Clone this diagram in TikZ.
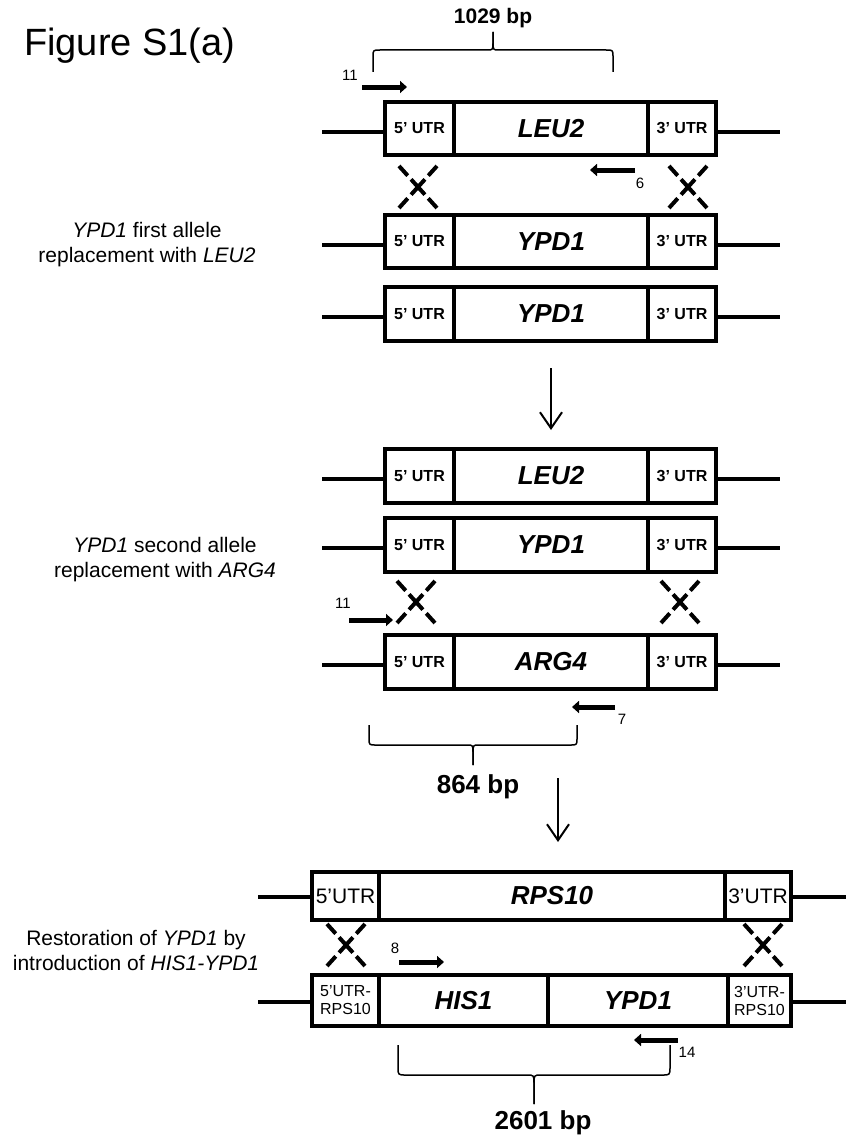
\documentclass[tikz,border=0pt]{standalone}
\usepackage{fontspec}
\setmainfont{Liberation Sans}
\usetikzlibrary{arrows.meta}
\newcommand\utrfont{\fontsize{16}{19}\selectfont\bfseries}
\newcommand\genefont{\fontsize{26}{30}\selectfont\bfseries\itshape}
\newcommand\plainutr{\fontsize{21}{24}\selectfont}
\newcommand\smallutr{\fontsize{16}{18}\selectfont}
\newcommand\primfont{\fontsize{15}{18}\selectfont}
\newcommand\sidefont{\fontsize{21}{25}\selectfont}
\newcommand\segnode[7]{\node[segbox,#6,minimum width={#3-#2},minimum height={#5-#4}] (#1) at ({(#2+#3)/2},{(#4+#5)/2}) {#7};}
\newcommand\stdrow[4]{%
  \segnode{#1a}{385}{454}{#2}{#3}{font=\utrfont}{5’ UTR}
  \segnode{#1b}{454}{648}{#2}{#3}{font=\genefont}{#4}
  \segnode{#1c}{648}{716}{#2}{#3}{font=\utrfont}{3’ UTR}
  \coordinate (#1L) at (322,{(#2+#3)/2+3});
  \coordinate (#1R) at (780,{(#2+#3)/2+3});
  \draw[flank] (#1L) -- (#1L -| #1a.west);
  \draw[flank] (#1R -| #1c.east) -- (#1R);
}
\newcommand\xcross[2]{%
  \draw[xdash] ({#1-19},{#2-21}) -- ({#1+19},{#2+21});
  \draw[xdash] ({#1+19},{#2-21}) -- ({#1-19},{#2+21});
}
\begin{document}
\begin{tikzpicture}[x=1pt,y=-1pt,
  segbox/.style={draw,line width=4pt,inner sep=0pt,outer sep=0pt,align=center},
  flank/.style={line width=4pt},
  xdash/.style={line width=4pt,dash pattern=on 13pt off 5pt on 20.6pt off 5pt},
  primer/.style={line width=5pt,-{Triangle[length=7pt,width=12pt]}},
  plab/.style={font=\primfont,inner sep=0pt},
  flow/.style={line width=2pt,-{Straight Barb[length=16pt,width=22pt]}},
  brc/.style={line width=1.5pt,line join=round},
  side/.style={font=\sidefont,align=center,inner sep=0pt},
  bp/.style={font=\fontsize{26}{30}\selectfont\bfseries,inner sep=0pt}]
\useasboundingbox (0,0) rectangle (846,1140);

\node[anchor=base west,font=\fontsize{38}{44}\selectfont,inner sep=0pt] (title) at (24,56) {Figure S1(a)};

% rows
\stdrow{r1}{102}{155}{LEU2}
\stdrow{r2}{215}{268}{YPD1}
\stdrow{r3}{287}{341}{YPD1}
\stdrow{r4}{449}{503}{LEU2}
\stdrow{r5}{518}{572}{YPD1}
\stdrow{r6}{635}{689}{ARG4}

% bottom rows
\segnode{r7a}{312}{379}{872}{920}{font=\plainutr}{5’UTR}
\segnode{r7b}{379}{725}{872}{920}{font=\genefont}{RPS10}
\segnode{r7c}{725}{791}{872}{920}{font=\plainutr}{3’UTR}
\coordinate (r7L) at (258,897);
\coordinate (r7R) at (846,897);
\draw[flank] (r7L) -- (r7L -| r7a.west);
\draw[flank] (r7R -| r7c.east) -- (r7R);

\segnode{r8a}{312}{379}{975}{1026}{font=\smallutr}{5’UTR-\\RPS10}
\segnode{r8b}{379}{548}{975}{1026}{font=\genefont}{HIS1}
\segnode{r8c}{548}{728}{975}{1026}{font=\genefont}{YPD1}
\segnode{r8d}{728}{791}{975}{1026}{font=\smallutr}{3’UTR-\\RPS10}
\coordinate (r8L) at (258,1002);
\coordinate (r8R) at (846,1002);
\draw[flank] (r8L) -- (r8L -| r8a.west);
\draw[flank] (r8R -| r8d.east) -- (r8R);

% crossovers
\xcross{418}{187} \xcross{688}{187}
\xcross{416}{602} \xcross{680}{602}
\xcross{346}{945} \xcross{763}{945}

% primers
\coordinate (p1s) at (362,87);  \coordinate (p1e) at (407,87);
\draw[primer] (p1s) -- (p1e);
\node[plab] (l1) at (350,75) {11};
\coordinate (p2s) at (635,170); \coordinate (p2e) at (590,170);
\draw[primer] (p2s) -- (p2e);
\node[plab] (l2) at (640,183) {6};
\coordinate (p3s) at (349,620); \coordinate (p3e) at (393,620);
\draw[primer] (p3s) -- (p3e);
\node[plab] (l3) at (343,603) {11};
\coordinate (p4s) at (615,707); \coordinate (p4e) at (572,707);
\draw[primer] (p4s) -- (p4e);
\node[plab] (l4) at (622,719) {7};
\coordinate (p5s) at (399,962); \coordinate (p5e) at (444,962);
\draw[primer] (p5s) -- (p5e);
\node[plab] (l5) at (395,948) {8};
\coordinate (p6s) at (678,1040); \coordinate (p6e) at (634,1040);
\draw[primer] (p6s) -- (p6e);
\node[plab] (l6) at (687,1052) {14};

% process arrows
\coordinate (a1s) at (551,368); \coordinate (a1e) at (551,430);
\draw[flow] (a1s) -- (a1e);
\coordinate (a2s) at (558,778); \coordinate (a2e) at (558,842);
\draw[flow] (a2s) -- (a2e);

% braces
\draw[brc] (373,72) -- (373,57) .. controls (373,50) .. (380,50) -- (487,50)
  .. controls (493,50) .. (493,42) -- (493,32);
\draw[brc] (493,32) -- (493,42) .. controls (493,50) .. (499,50) -- (606,50)
  .. controls (613,50) .. (613,57) -- (613,72);
\node[font=\fontsize{21}{24}\selectfont\bfseries,inner sep=0pt] (bp1) at (493,18) {1029 bp};

\draw[brc] (369,725) -- (369,738) .. controls (369,745) .. (376,745) -- (467,745)
  .. controls (473,745) .. (473,753) -- (473,765);
\draw[brc] (473,765) -- (473,753) .. controls (473,745) .. (479,745) -- (570,745)
  .. controls (577,745) .. (577,738) -- (577,725);
\node[bp] (bp2) at (478,787) {864 bp};

\draw[brc] (398,1045) -- (398,1067) .. controls (398,1075) .. (406,1075) -- (527,1075)
  .. controls (534,1075) .. (534,1084) -- (534,1104);
\draw[brc] (534,1104) -- (534,1084) .. controls (534,1075) .. (541,1075) -- (662,1075)
  .. controls (670,1075) .. (670,1067) -- (670,1045);
\node[bp] (bp3) at (543,1123) {2601 bp};

% side labels
\node[side] (s1) at (147,245) {\textit{YPD1} first allele\\replacement with \textit{LEU2}};
\node[side] (s2) at (165,560) {\textit{YPD1} second allele\\replacement with \textit{ARG4}};
\node[side] (s3) at (136,950) {Restoration of \textit{YPD1} by\\introduction of \textit{HIS1-YPD1}};
\end{tikzpicture}
\end{document}
